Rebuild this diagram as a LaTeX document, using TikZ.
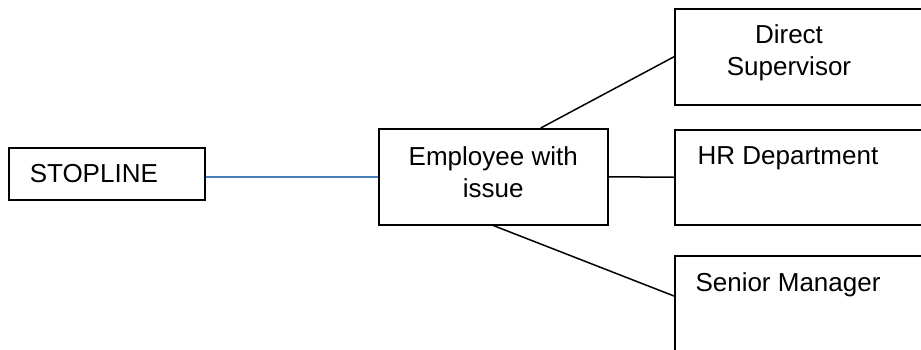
\documentclass[tikz,border=0pt]{standalone}
\usepackage{fontspec}
\setmainfont{Liberation Sans}
\usepackage{tikz}
\usetikzlibrary{positioning}
\definecolor{link}{HTML}{4A7EBB}

\begin{document}
\begin{tikzpicture}[
  x=0.5pt, y=-0.5pt,
  font=\fontsize{13}{16}\selectfont,
  box/.style={draw,line width=0.75pt,anchor=north west,inner sep=0pt},
  lbl/.style={align=center,inner sep=0pt},
  line/.style={draw,line width=0.75pt},
  hot/.style={draw=link,line width=0.75pt},
]
\useasboundingbox (0,0) rectangle (921,349);
\clip (0,0) rectangle (921,349);

\node[box,minimum width=98pt,minimum height=26pt,text width=77pt,inner xsep=10.5pt,align=left] (stop) at (8,147) {STOPLINE};
\node[box,minimum width=114.5pt,minimum height=48pt,align=center,text depth=5pt] (emp) at (378,128) {Employee with\\issue};

\node[box,minimum width=133pt,minimum height=48pt] (sup) at (674,8) {};
\node[box,minimum width=133pt,minimum height=47.5pt] (hr) at (674,129) {};
\node[box,minimum width=133pt,minimum height=48pt] (mgr) at (674,255) {};

\node[lbl] (suptxt) at (789,52.5) {Direct\\Supervisor};
\node[lbl,anchor=base] (hrtxt) at (788,164) {HR Department};
\node[lbl,anchor=base] (mgrtxt) at (788,291) {Senior Manager};

\draw[hot] (emp.west) -- (emp.west -| stop.east);
\draw[line] ([xshift=23.75pt]emp.north) -- (sup.west);
\draw[line] (emp.east) -- (hr.west);
\draw[line] (emp.south) -- ([yshift=-20.5pt]mgr.north west);
\end{tikzpicture}
\end{document}
